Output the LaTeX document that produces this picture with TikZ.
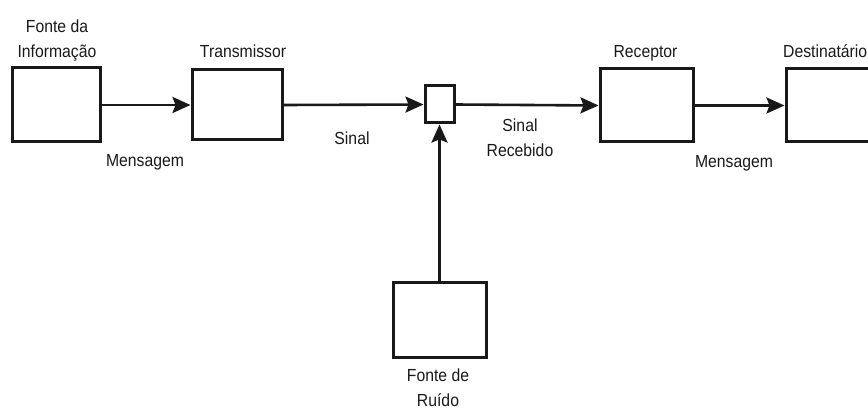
\documentclass[tikz,border=0pt]{standalone}
\usepackage{fontspec}
\setmainfont{Liberation Sans}[FakeStretch=0.9]
\usetikzlibrary{arrows.meta}
\begin{document}
\begin{tikzpicture}[x=1pt,y=-1pt,
  box/.style={draw=black!90, line width=3pt, inner sep=0pt, fill=white},
  arr/.style={line width=2.6pt, draw=black!90, -{Stealth[length=18pt,width=16pt,inset=3pt]}},
  lbl/.style={inner sep=0pt, anchor=base, align=center, font=\fontsize{17.5}{25}\selectfont, text=black!90}]
\useasboundingbox (0,0) rectangle (868,409);
\clip (0,0) rectangle (868,409);
% boxes
\node[box, minimum width=88pt, minimum height=74pt] (src) at (56,105) {};
\node[box, minimum width=90pt, minimum height=70pt] (tx) at (237,105) {};
\node[box, minimum width=29pt, minimum height=37pt] (mix) at (439.5,104.5) {};
\node[box, minimum width=93pt, minimum height=73pt] (rx) at (646.5,105.5) {};
\node[box, minimum width=93pt, minimum height=73pt, anchor=west] (dst) at (784.5,105.5) {};
\node[box, minimum width=93pt, minimum height=75pt] (noise) at (439.5,319.5) {};
% connectors
\draw[arr] (src.east) -- (tx.west);
\draw[arr] (tx.east) -- (mix.west);
\draw[arr] (mix.east) -- (rx.west);
\draw[arr] (rx.east) -- (dst.west);
\draw[arr] (noise.north) -- (mix.south);
% labels (base anchor = baseline of last line)
\node[lbl] (l1) at (57,57.5) {Fonte da\\Informação};
\node[lbl] (l2) at (243,57.5) {Transmissor};
\node[lbl] (l3) at (145,167) {Mensagem};
\node[lbl] (l4) at (352,145) {Sinal};
\node[lbl] (l5) at (520,156.7) {Sinal\\Recebido};
\node[lbl] (l6) at (645.5,57.3) {Receptor};
\node[lbl, anchor=base west] (l7) at (783,57.3) {Destinatário};
\node[lbl] (l8) at (734,167.7) {Mensagem};
\node[lbl] (l9) at (438,406) {Fonte de\\Ruído};
\end{tikzpicture}
\end{document}
